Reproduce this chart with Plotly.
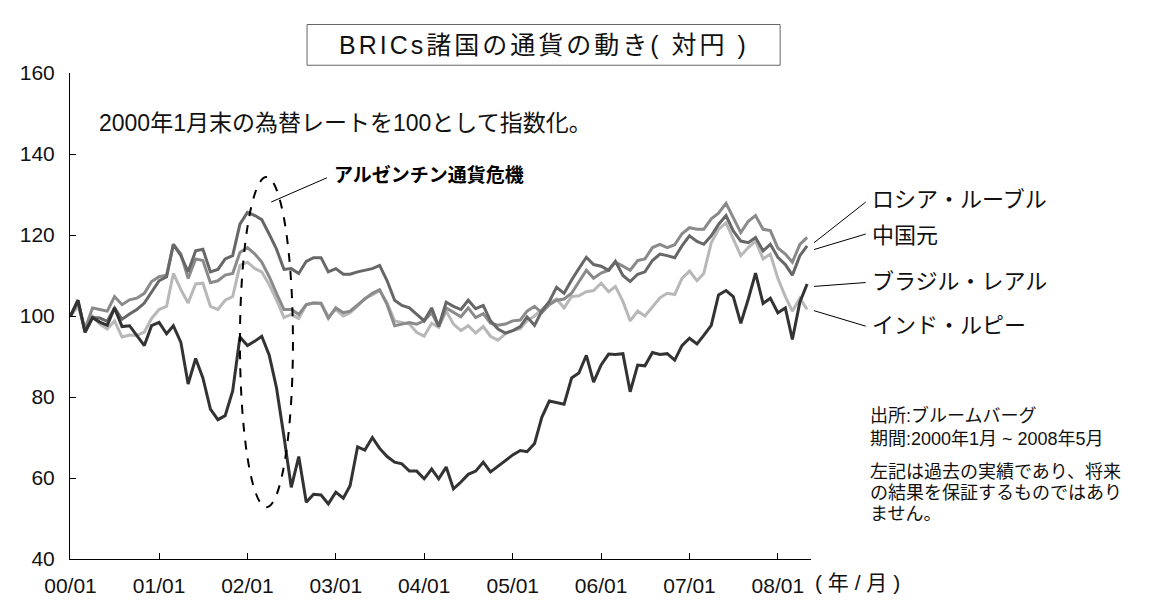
import plotly.graph_objects as go
import pandas as pd

# ---- data (index, Jan 2000 = 100), monthly 2000/01 .. 2008/05 ----
start_month = "2000-01-01"
n_months = 101

russia = [100, 103.2, 96.8, 102.0, 101.6, 101.2, 104.8, 102.8, 104.0, 104.4,
          105.6, 108.5, 109.7, 110.1, 117.7, 115.3, 109.3, 114.1, 113.7, 108.2,
          108.7, 110.1, 110.5, 115.7, 116.9, 115.3, 113.3, 109.7, 105.6, 101.6,
          101.6, 100.4, 102.8, 103.2, 103.1, 99.4, 102.0, 100.8, 101.2, 102.8,
          104.2, 105.6, 106.5, 102.8, 97.6, 98.0, 98.4, 98.0, 98.8, 100.8,
          97.4, 102.0, 101.0, 99.8, 102.0, 99.6, 100.6, 98.2, 97.7, 98.0,
          98.8, 99.0, 101.2, 102.4, 100.8, 102.8, 103.9, 104.2, 105.6, 108.5,
          111.3, 109.3, 110.6, 111.3, 113.3, 112.3, 111.3, 113.7, 114.1, 116.9,
          117.7, 116.9, 117.6, 120.3, 121.8, 121.4, 121.4, 124.0, 125.4, 127.8,
          124.2, 120.6, 123.4, 124.8, 121.4, 121.1, 116.8, 115.3, 113.3, 117.7,
          119.4]

china = [100, 103.9, 96.0, 99.6, 99.5, 98.7, 102.0, 99.2, 100.5, 101.6,
         103.2, 106.0, 108.7, 109.7, 117.7, 114.9, 110.9, 116.1, 116.5, 110.9,
         111.5, 114.1, 114.9, 122.7, 125.6, 124.8, 123.8, 120.2, 116.5, 111.5,
         111.7, 110.5, 113.5, 114.4, 114.4, 110.9, 111.7, 110.3, 110.3, 110.9,
         111.3, 111.7, 112.5, 108.7, 103.9, 102.6, 102.0, 100.4, 98.8, 102.0,
         97.4, 103.4, 102.4, 101.6, 103.9, 101.8, 102.6, 98.8, 96.8, 95.8,
         96.4, 97.4, 99.8, 97.7, 101.2, 103.6, 107.1, 105.6, 108.9, 111.7,
         114.5, 112.7, 112.3, 111.3, 113.5, 110.0, 108.5, 110.3, 110.9, 113.7,
         115.3, 114.9, 114.4, 117.3, 119.8, 118.4, 117.7, 119.8, 122.6, 124.8,
         121.0, 118.5, 118.1, 119.4, 116.1, 117.7, 114.5, 112.7, 110.1, 114.9,
         117.3]

brazil = [100, 103.9, 96.0, 99.6, 98.5, 97.7, 102.0, 97.4, 97.6, 95.2,
          92.7, 97.6, 98.4, 95.6, 97.6, 93.5, 83.2, 89.5, 84.7, 77.0,
          74.4, 75.4, 81.5, 94.8, 92.7, 93.8, 95.0, 90.3, 82.3, 70.2,
          57.7, 65.3, 54.0, 56.0, 55.8, 53.6, 56.5, 55.0, 58.1, 67.7,
          66.9, 70.0, 67.3, 65.3, 63.9, 63.5, 61.7, 61.7, 59.8, 62.2,
          59.8, 62.7, 57.3, 59.0, 60.9, 61.7, 63.9, 61.5, 62.9, 64.1,
          65.7, 66.8, 66.5, 68.5, 75.0, 79.0, 78.6, 78.2, 84.7, 85.9,
          90.3, 83.7, 87.9, 90.6, 90.5, 90.7, 81.3, 87.9, 87.7, 91.0,
          90.5, 90.7, 89.1, 92.7, 94.5, 93.1, 95.2, 97.7, 105.2, 106.3,
          104.8, 98.2, 104.2, 110.6, 103.1, 104.4, 100.8, 102.0, 94.2, 103.4,
          107.9]

india = [100, 102.5, 96.4, 100.0, 98.0, 96.8, 98.8, 94.8, 95.3, 95.2,
         96.0, 99.4, 101.6, 102.4, 110.5, 106.5, 103.2, 107.9, 108.1, 102.4,
         101.6, 103.9, 104.8, 112.5, 113.3, 111.7, 110.9, 107.7, 104.0, 99.6,
         100.4, 99.4, 102.8, 103.2, 103.2, 99.8, 101.6, 100.0, 100.8, 102.4,
         104.4, 105.2, 106.3, 103.2, 98.8, 98.5, 98.0, 96.0, 95.0, 98.2,
         97.2, 101.2, 98.0, 96.4, 97.6, 95.8, 97.4, 95.0, 94.0, 95.6,
         96.4, 96.9, 98.8, 100.0, 101.6, 103.2, 104.2, 102.0, 104.8, 105.0,
         106.0, 106.3, 108.1, 106.0, 107.3, 103.6, 98.8, 101.2, 100.0, 102.4,
         104.5, 105.6, 105.3, 109.3, 111.1, 108.7, 110.5, 118.1, 121.4, 123.0,
         119.0, 114.9, 116.9, 118.5, 114.1, 115.3, 109.3, 104.8, 101.2, 104.4,
         101.6]

series_names = ["インド・ルピー", "ロシア・ルーブル", "中国元", "ブラジル・レアル"]
series_values = [india, russia, china, brazil]
series_colors = ["#b8b8b8", "#8a8a8a", "#676767", "#333333"]

y_ticks = [40, 60, 80, 100, 120, 140, 160]
x_tick_dates = ["2000-01-01", "2001-01-01", "2002-01-01", "2003-01-01", "2004-01-01",
                "2005-01-01", "2006-01-01", "2007-01-01", "2008-01-01"]
x_tick_labels = ["00/01", "01/01", "02/01", "03/01", "04/01", "05/01", "06/01", "07/01", "08/01"]

dates = pd.date_range(start_month, periods=n_months, freq="MS")

FONT = "Liberation Sans, Arial, Noto Sans CJK JP, sans-serif"

# ---- layout geometry (pixels) ----
W, H = 1149, 601
L, R, T, B = 59, 803, 65, 566


def px(X):
    return (X - L) / (R - L)


def py(Y):
    return (B - Y) / (B - T)


fig = go.Figure()
for name, vals, col in zip(series_names, series_values, series_colors):
    fig.add_trace(go.Scatter(x=dates, y=vals, mode="lines", name=name,
                             line=dict(color=col, width=3), hoverinfo="skip"))

annotations = []
shapes = []

# title box
shapes.append(dict(type="rect", xref="paper", yref="paper",
                   x0=px(297), x1=px(772), y0=py(57), y1=py(15),
                   line=dict(color="#666666", width=1)))
annotations.append(dict(xref="paper", yref="paper", x=px(534.5), y=py(36),
                        text="<span style='letter-spacing:3px'>BRICs諸国の通貨の動き( 対円 )</span>",
                        showarrow=False, xanchor="center", yanchor="middle",
                        font=dict(size=25, color="#111111", family=FONT)))

# subtitle
annotations.append(dict(xref="paper", yref="paper", x=px(86), y=py(117),
                        text="2000年1月末の為替レートを100として指数化。",
                        showarrow=False, xanchor="left", yanchor="middle",
                        font=dict(size=23, color="#111111", family=FONT)))

# Argentina crisis note
annotations.append(dict(xref="paper", yref="paper", x=px(322), y=py(170),
                        text="<b>アルゼンチン通貨危機</b>",
                        showarrow=False, xanchor="left", yanchor="middle",
                        font=dict(size=19, color="#000000", family=FONT)))
shapes.append(dict(type="line", xref="paper", yref="paper",
                   x0=px(261), y0=py(198), x1=px(317), y1=py(173),
                   line=dict(color="#000000", width=1)))
shapes.append(dict(type="circle", xref="x", yref="y",
                   x0="2001-12-01", x1="2002-07-08", y0=52.8, y1=134.3,
                   line=dict(color="#000000", width=2, dash="dash")))

# series labels with leader lines
label_specs = [
    ("ロシア・ルーブル", 195, (806, 240), (858, 198)),
    ("中国元", 232, (806, 247), (858, 231)),
    ("ブラジル・レアル", 280, (806, 285), (858, 281)),
    ("インド・ルピー", 325, (806, 310), (858, 326)),
]
for text, yc, p0, p1 in label_specs:
    annotations.append(dict(xref="paper", yref="paper", x=px(862), y=py(yc),
                            text=text, showarrow=False, xanchor="left", yanchor="middle",
                            font=dict(size=22, color="#111111", family=FONT)))
    shapes.append(dict(type="line", xref="paper", yref="paper",
                       x0=px(p0[0]), y0=py(p0[1]), x1=px(p1[0]), y1=py(p1[1]),
                       line=dict(color="#000000", width=1)))

# notes
notes = [("出所:ブルームバーグ", 418), ("期間:2000年1月 ~ 2008年5月", 442),
         ("左記は過去の実績であり、将来", 476), ("の結果を保証するものではあり", 498),
         ("ません。", 520)]
for text, yc in notes:
    annotations.append(dict(xref="paper", yref="paper", x=px(860), y=py(yc),
                            text=text, showarrow=False, xanchor="left", yanchor="middle",
                            font=dict(size=18, color="#111111", family=FONT)))

# x unit label
annotations.append(dict(xref="paper", yref="paper", x=px(805), y=py(590),
                        text="( 年 / 月 )", showarrow=False, xanchor="left", yanchor="middle",
                        font=dict(size=21, color="#111111", family=FONT)))

fig.update_layout(
    width=W, height=H,
    margin=dict(l=L, r=W - R, t=T, b=H - B, pad=0),
    paper_bgcolor="white", plot_bgcolor="white",
    showlegend=False,
    font=dict(family=FONT, size=21, color="#111111"),
    annotations=annotations, shapes=shapes,
)
fig.update_xaxes(range=["1999-12-30", "2008-05-17"], tickvals=x_tick_dates, ticktext=x_tick_labels,
                 showgrid=False, zeroline=False, showline=True, linecolor="#000000", linewidth=1,
                 ticks="inside", ticklen=6, tickcolor="#000000", tickwidth=1,
                 tickfont=dict(size=21, color="#111111"), ticklabelstandoff=8)
fig.update_yaxes(range=[40, 160], tickvals=y_ticks, showgrid=False, zeroline=False,
                 showline=True, linecolor="#000000", linewidth=1,
                 ticks="inside", ticklen=6, tickcolor="#000000", tickwidth=1,
                 tickfont=dict(size=21, color="#111111"), ticklabelstandoff=10)

fig.write_html("out.html")
